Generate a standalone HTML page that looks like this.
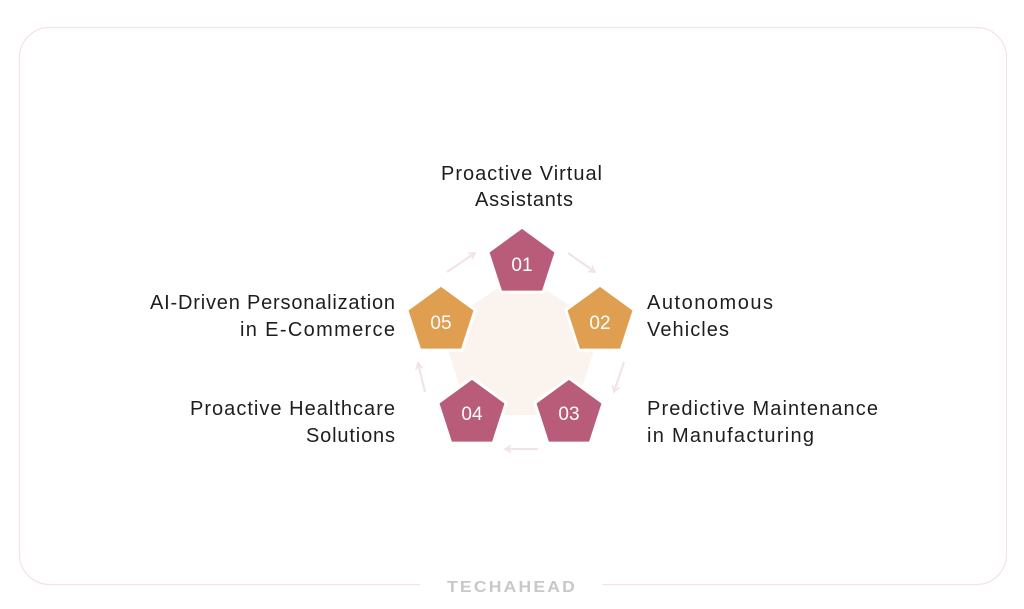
<!DOCTYPE html>
<html><head><meta charset="utf-8"><style>
html,body{margin:0;padding:0;background:#fff;}
svg{display:block;}
text{font-family:"Liberation Sans",sans-serif;}
</style></head><body>
<svg width="1024" height="609" viewBox="0 0 1024 609" xmlns="http://www.w3.org/2000/svg">
<defs>
<marker id="ah" viewBox="0 0 10 10" refX="8" refY="5" markerWidth="4" markerHeight="4" orient="auto"><path d="M1,1 L8,5 L1,9" fill="none" stroke="#f2e3e7" stroke-width="2"/></marker>
</defs>
<rect x="19.5" y="27.5" width="987" height="557" rx="30" fill="#fff" stroke="#f1e3e6" stroke-width="1.2"/>
<rect x="420" y="578" width="182" height="12" fill="#fff"/>
<text x="512" y="592" text-anchor="middle" font-size="16" font-weight="bold" fill="#c8c8c8" letter-spacing="2" textLength="130" lengthAdjust="spacingAndGlyphs">TECHAHEAD</text>
<polygon points="520,286 590,330 566,405 476,405 452,330" fill="#fbf3ee" stroke="#fbf3ee" stroke-width="20" stroke-linejoin="round"/>
<g stroke="#f2e3e7" stroke-width="2.2" fill="none" marker-end="url(#ah)">
<line x1="568" y1="253" x2="595" y2="272"/>
<line x1="624" y1="362" x2="614" y2="392"/>
<line x1="538" y1="449" x2="505" y2="449"/>
<line x1="425" y1="392" x2="418" y2="363"/>
<line x1="447" y1="272" x2="475" y2="253"/>
</g>
<g>
<polygon transform="translate(522,263)" points="0,-36 34.2,-11.1 21.2,29.1 -21.2,29.1 -34.2,-11.1" fill="#b85c7a" stroke="#fff" stroke-width="3" stroke-linejoin="round"/>
<polygon transform="translate(600,321)" points="0,-36 34.2,-11.1 21.2,29.1 -21.2,29.1 -34.2,-11.1" fill="#e09e50" stroke="#fff" stroke-width="3" stroke-linejoin="round"/>
<polygon transform="translate(569,414)" points="0,-36 34.2,-11.1 21.2,29.1 -21.2,29.1 -34.2,-11.1" fill="#b85c7a" stroke="#fff" stroke-width="3" stroke-linejoin="round"/>
<polygon transform="translate(472,414)" points="0,-36 34.2,-11.1 21.2,29.1 -21.2,29.1 -34.2,-11.1" fill="#b85c7a" stroke="#fff" stroke-width="3" stroke-linejoin="round"/>
<polygon transform="translate(441,321)" points="0,-36 34.2,-11.1 21.2,29.1 -21.2,29.1 -34.2,-11.1" fill="#e09e50" stroke="#fff" stroke-width="3" stroke-linejoin="round"/>
</g>
<g fill="#fff" font-size="19" text-anchor="middle">
<text x="522" y="271">01</text>
<text x="600" y="329">02</text>
<text x="569" y="420">03</text>
<text x="472" y="420">04</text>
<text x="441" y="329">05</text>
</g>
<g fill="#1e1e1e" font-size="20" lengthAdjust="spacingAndGlyphs">
<text x="441" y="180" textLength="161">Proactive Virtual</text>
<text x="475" y="206" textLength="98">Assistants</text>
<text x="647" y="309" textLength="126">Autonomous</text>
<text x="647" y="336" textLength="82">Vehicles</text>
<text x="647" y="415" textLength="231">Predictive Maintenance</text>
<text x="647" y="442" textLength="167">in Manufacturing</text>
<text x="150" y="309" textLength="245">AI-Driven Personalization</text>
<text x="240" y="336" textLength="155">in E-Commerce</text>
<text x="190" y="415" textLength="205">Proactive Healthcare</text>
<text x="306" y="442" textLength="89">Solutions</text>
</g>
</svg>
</body></html>
